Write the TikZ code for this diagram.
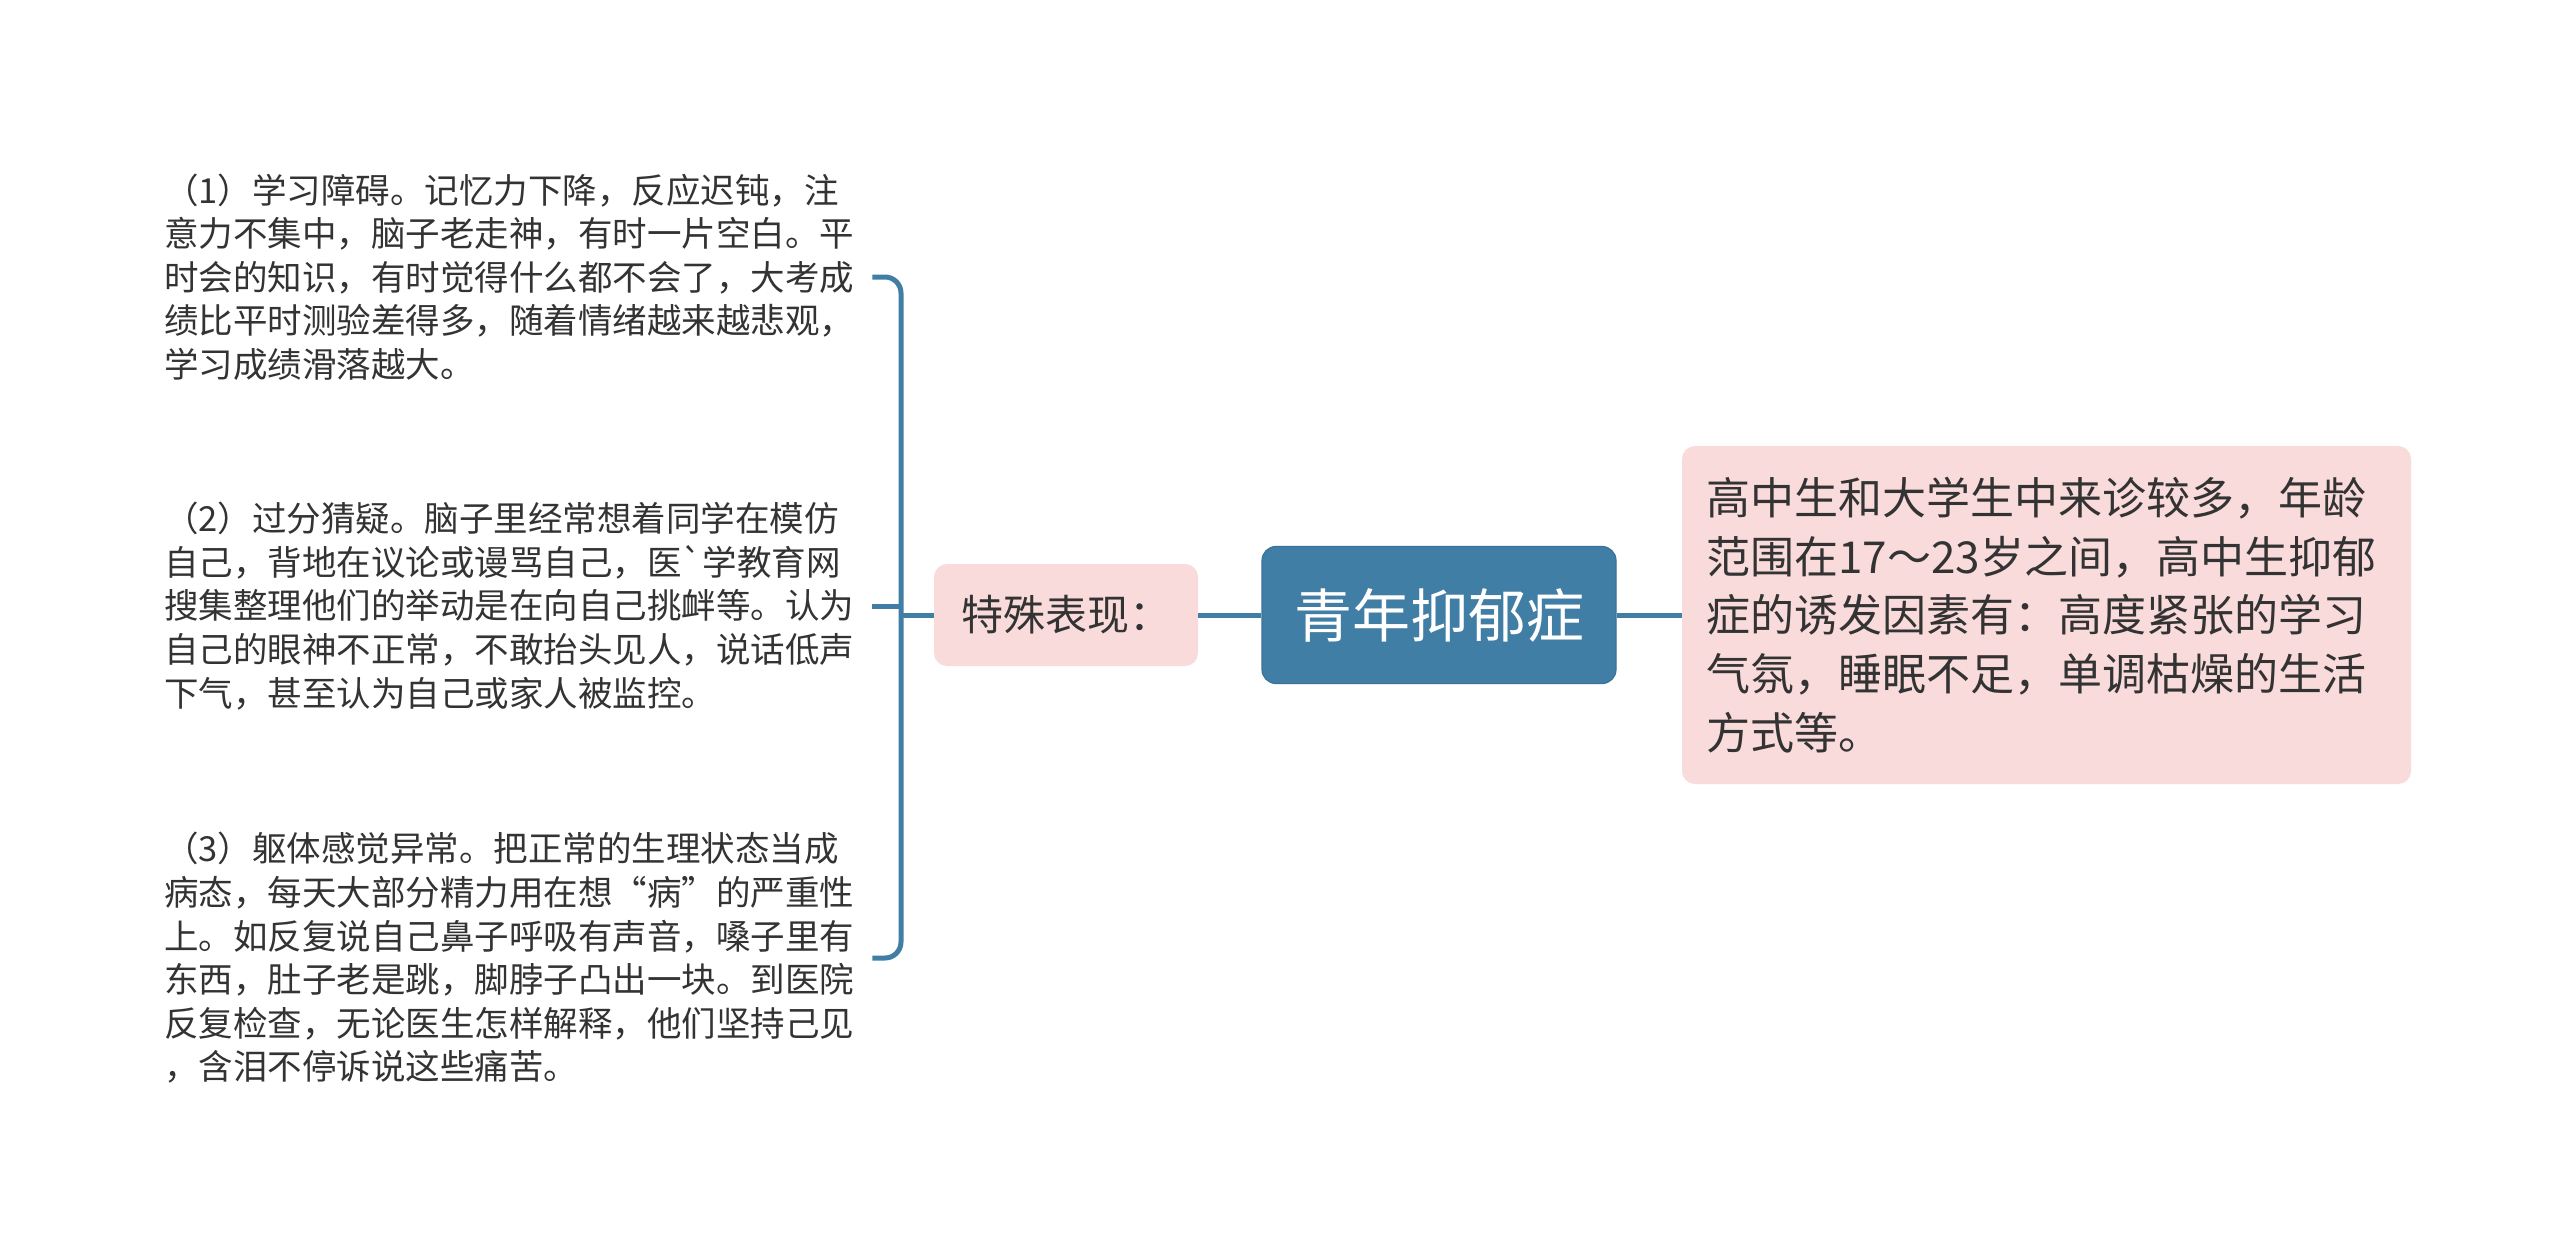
\documentclass[tikz,border=0pt]{standalone}
\usepackage{fontspec}
\setmainfont{Noto Sans CJK SC}[Ligatures=TeXOff]
\definecolor{mapblue}{HTML}{407EA5}
\definecolor{mapblueedge}{HTML}{3A7399}
\definecolor{mappink}{HTML}{FADBDB}
\definecolor{maptext}{HTML}{333333}
\tikzset{
  conn/.style={draw=mapblue, line width=5pt},
  rootbox/.style={fill=mapblue, draw=mapblueedge, line width=1.2pt, rounded corners=14pt,
    minimum width=354pt, minimum height=137pt, inner sep=0pt, text=white,
    font=\fontsize{58pt}{70pt}\selectfont},
  pinkbox/.style={fill=mappink, rounded corners=13pt, text=maptext, inner sep=0pt},
  leftnote/.style={anchor=west, text width=692pt, align=left, inner xsep=16pt, inner ysep=4pt,
    text=maptext, font=\fontsize{34.5pt}{43.6pt}\selectfont},
}
\begin{document}
\begin{tikzpicture}[x=1pt,y=-1pt]
\useasboundingbox (0,0) rectangle (2560,1253);
\fill[white] (0,0) rectangle (2560,1253);

% nodes
\node[rootbox] (root) at (1439,615) {青年抑郁症};
\node[pinkbox, minimum width=264pt, minimum height=102pt,
      font=\fontsize{42pt}{50pt}\selectfont] (spec) at (1066,615) {特殊表现：};
\node[pinkbox, minimum width=729pt, minimum height=338pt, text width=680pt, align=left,
      inner xsep=24.5pt, font=\fontsize{44pt}{58.8pt}\selectfont] (desc) at (2046.5,615)
  {高中生和大学生中来诊较多，年龄\\
   范围在17～23岁之间，高中生抑郁\\
   症的诱发因素有：高度紧张的学习\\
   气氛，睡眠不足，单调枯燥的生活\\
   方式等。};

\node[leftnote] (t1) at (148,277)
  {（1）学习障碍。记忆力下降，反应迟钝，注\\
   意力不集中，脑子老走神，有时一片空白。平\\
   时会的知识，有时觉得什么都不会了，大考成\\
   绩比平时测验差得多，随着情绪越来越悲观，\\
   学习成绩滑落越大。};
\node[leftnote] (t2) at (148,606)
  {（2）过分猜疑。脑子里经常想着同学在模仿\\
   自己，背地在议论或谩骂自己，医`学教育网\\
   搜集整理他们的举动是在向自己挑衅等。认为\\
   自己的眼神不正常，不敢抬头见人，说话低声\\
   下气，甚至认为自己或家人被监控。};
\node[leftnote] (t3) at (148,958)
  {（3）躯体感觉异常。把正常的生理状态当成\\
   病态，每天大部分精力用在想“病”的严重性\\
   上。如反复说自己鼻子呼吸有声音，嗓子里有\\
   东西，肚子老是跳，脚脖子凸出一块。到医院\\
   反复检查，无论医生怎样解释，他们坚持己见\\
   ，含泪不停诉说这些痛苦。};

% connectors
\coordinate (bx) at (901,615);
\draw[conn] (root.west) -- (spec.east);
\draw[conn] (root.east) -- (desc.west);
\draw[conn] (spec.west) -- (bx);
\draw[conn, rounded corners=16pt] (t1.east) -| (bx) |- (t3.east);
\draw[conn] (t2.east) -- (t2.east -| bx);
\end{tikzpicture}
\end{document}
